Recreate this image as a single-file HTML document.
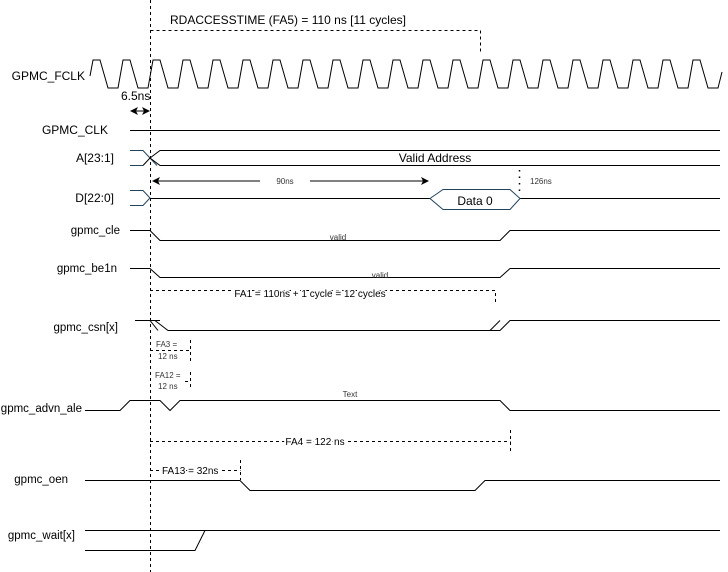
<!DOCTYPE html>
<html><head><meta charset="utf-8"><style>
html,body{margin:0;padding:0;background:#fff;}
svg{display:block;font-family:"Liberation Sans",sans-serif;}
</style></head><body>
<svg width="728" height="572" viewBox="0 0 728 572" xmlns="http://www.w3.org/2000/svg">
<defs><marker id="ah" markerWidth="8" markerHeight="8" refX="7" refY="4" orient="auto-start-reverse" markerUnits="userSpaceOnUse"><path d="M0,0 L8,4 L0,8 L2,4 Z" fill="#000"/></marker></defs>
<g fill="none" stroke="#000" stroke-width="1">
<line x1="150.5" y1="0" x2="150.5" y2="572" stroke-dasharray="3,3"/>
<polyline points="150.5,30.5 480.5,30.5 480.5,52" stroke-dasharray="3,3"/>
<path d="M90,76 L93,60 L100,60 L108,88 L118,88 L123,60 L130,60 L138,88 L148,88 L153,60 L160,60 L168,88 L178,88 L183,60 L190,60 L198,88 L208,88 L213,60 L220,60 L228,88 L238,88 L243,60 L250,60 L258,88 L268,88 L273,60 L280,60 L288,88 L298,88 L303,60 L310,60 L318,88 L328,88 L333,60 L340,60 L348,88 L358,88 L363,60 L370,60 L378,88 L388,88 L393,60 L400,60 L408,88 L418,88 L423,60 L430,60 L438,88 L448,88 L453,60 L460,60 L468,88 L478,88 L483,60 L490,60 L498,88 L508,88 L513,60 L520,60 L528,88 L538,88 L543,60 L550,60 L558,88 L568,88 L573,60 L580,60 L588,88 L598,88 L603,60 L610,60 L618,88 L628,88 L633,60 L640,60 L648,88 L658,88 L663,60 L670,60 L678,88 L688,88 L693,60 L700,60 L708,88 L718,88 L722,72"/>
<line x1="131" y1="111" x2="149" y2="111" marker-end="url(#ah)" marker-start="url(#ah)"/>
<line x1="130" y1="130.5" x2="720" y2="130.5"/>
<path d="M130,150.5 H143 L150,158 L157,165.5 M143,165.5 H130" stroke="#23445d"/>
<path d="M143,165.5 L150,158 L160,150.5 H720 M150,158 L160,165.5 H720"/>
<path d="M130,190.5 H143 L150,198 L143,205.5 H130" stroke="#23445d"/>
<path d="M150,198.5 H430 M520,198.5 H720"/>
<polygon points="430,198.5 443,189.5 510,189.5 520,198.5 510,209.5 443,209.5" stroke="#23445d"/>
<line x1="260" y1="181" x2="153" y2="181" marker-end="url(#ah)"/>
<line x1="310" y1="181" x2="428" y2="181" marker-end="url(#ah)"/>
<line x1="519.5" y1="170" x2="519.5" y2="195" stroke-dasharray="1.5,5" stroke-width="1.5"/>
<path d="M130,230.5 H150 L160,240.5 H500 L510,230.5 H720"/>
<path d="M130,268.5 H150 L160,277.5 H500 L510,268.5 H720"/>
<path d="M150,290.5 H495.5 V302" stroke-dasharray="3,3"/>
<path d="M135,320.5 H150 L158,330.5 M155,320.5 L168,330.5 H500 M490,330.5 L500,320.5 M500,330.5 L510,320.5 H720 M150,320.5 H160"/>
<path d="M150,350.5 H190.5 M190.5,340 V362" stroke-dasharray="3,3"/>
<path d="M185,381.5 H190.5 M190.5,372 V390" stroke-dasharray="3,3"/>
<path d="M85,410.5 H120 L130,400.5 H160 L170,410.5 L180,400.5 H500 L510,410.5 H720"/>
<path d="M150,441.5 H510.5 M510.5,430 V452" stroke-dasharray="3,3"/>
<path d="M150,470.5 H240.5 M240.5,460 V480" stroke-dasharray="3,3"/>
<path d="M85,480.5 H240 L250,490.5 H475 L485,480.5 H720"/>
<path d="M85,530.5 H720 M85,550.5 H195 L205,530.5"/>
</g>
<g font-size="12" fill="#000">
<text x="170" y="24">RDACCESSTIME (FA5) = 110 ns [11 cycles]</text>
<text x="85" y="80" text-anchor="end">GPMC_FCLK</text>
<text x="121" y="100">6.5ns</text>
<text x="108" y="134" text-anchor="end">GPMC_CLK</text>
<text x="114" y="162" text-anchor="end">A[23:1]</text>
<text x="114" y="202" text-anchor="end">D[22:0]</text>
<text x="435" y="162" text-anchor="middle">Valid Address</text>
<text x="475" y="205" text-anchor="middle">Data 0</text>
</g>
<g font-size="11.5" fill="#000">
<text x="120" y="234" text-anchor="end">gpmc_cle</text>
<text x="117" y="272" text-anchor="end">gpmc_be1n</text>
<text x="118" y="331" text-anchor="end">gpmc_csn[x]</text>
<text x="82" y="412" text-anchor="end">gpmc_advn_ale</text>
<text x="68" y="483" text-anchor="end">gpmc_oen</text>
<text x="75" y="539" text-anchor="end">gpmc_wait[x]</text>
</g>
<g font-size="10" fill="#000">
<text x="310" y="297" text-anchor="middle" style="paint-order:stroke" stroke="#fff" stroke-width="3">FA1 = 110ns + 1 cycle = 12 cycles</text>
<text x="315" y="445" text-anchor="middle" style="paint-order:stroke" stroke="#fff" stroke-width="4">FA4 = 122 ns</text>
<text x="162" y="474" style="paint-order:stroke" stroke="#fff" stroke-width="3">FA13 = 32ns</text>
</g>
<g font-size="8" fill="#333">
<rect x="262" y="175" width="46" height="12" fill="#fff"/>
<text x="285" y="184" text-anchor="middle">90ns</text>
<text x="530" y="184">126ns</text>
<text x="338" y="240" text-anchor="middle">valid</text>
<text x="380" y="278" text-anchor="middle">valid</text>
<text x="156" y="347">FA3 =</text>
<text x="158" y="359">12 ns</text>
<text x="155" y="378">FA12 =</text>
<text x="158" y="389">12 ns</text>
<text x="350" y="397" text-anchor="middle">Text</text>
</g>
</svg>
</body></html>
